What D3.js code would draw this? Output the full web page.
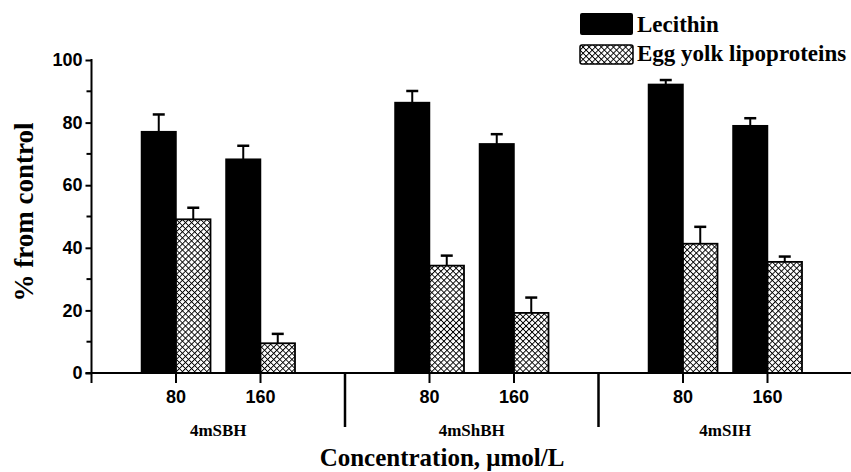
<!DOCTYPE html>
<html>
<head>
<meta charset="utf-8">
<script src="https://cdn.jsdelivr.net/npm/d3@7"></script>
<style>
  body { margin: 0; background: #fff; }
  .tick-num { font-family: "Liberation Sans", Arial, sans-serif; font-weight: bold; font-size: 18px; }
  .serif-b { font-family: "Liberation Serif", "Times New Roman", serif; font-weight: bold; }
</style>
</head>
<body>
<svg id="chart" width="851" height="472"></svg>
<script>
// data
var groups = ["4mSBH", "4mShBH", "4mSIH"];
var concs = ["80", "160"];
var lecithin = [77.1, 68.3, 86.4, 73.2, 92.2, 79.0];
var lecithinErr = [5.5, 4.3, 3.7, 3.1, 1.4, 2.4];
var eggYolk = [49.1, 9.5, 34.3, 19.2, 41.3, 35.5];
var eggYolkErr = [3.7, 3.0, 3.2, 4.9, 5.4, 1.7];
var yTicks = [0, 20, 40, 60, 80, 100];
var yMinor = [10, 30, 50, 70, 90];
var seriesNames = ["Lecithin", "Egg yolk lipoproteins"];

var svg = d3.select("#chart");

// slot 0 = y axis, each group takes 3 slots (80, 160, separator)
var x = d3.scaleLinear().domain([0, 9]).range([91.5, 852]);
var y = d3.scaleLinear().domain([0, 100]).range([373, 60]);
var barW = 34.5;

// crosshatch pattern
var defs = svg.append("defs");
var pat = defs.append("pattern")
    .attr("id", "hatch")
    .attr("patternUnits", "userSpaceOnUse")
    .attr("width", 4.3)
    .attr("height", 4.3)
    .attr("patternTransform", "rotate(45)");
pat.append("rect").attr("width", 4.3).attr("height", 4.3).attr("fill", "#fff");
pat.append("path").attr("d", "M0,0H4.3M0,0V4.3")
    .attr("stroke", "#000").attr("stroke-width", 1.9);

var rows = [];
groups.forEach(function (g, gi) {
    concs.forEach(function (c, ci) {
        var k = gi * 2 + ci;
        rows.push({slot: gi * 3 + ci + 1, conc: c,
            lec: lecithin[k], lecErr: lecithinErr[k],
            egg: eggYolk[k], eggErr: eggYolkErr[k]});
    });
});

// error bars (drawn first so the bar covers the lower half)
function errorBars(key, errKey, offset) {
    var eb = svg.append("g").selectAll("g").data(rows).enter().append("g");
    eb.append("line")
        .attr("x1", function (d) { return x(d.slot) + offset; })
        .attr("x2", function (d) { return x(d.slot) + offset; })
        .attr("y1", function (d) { return y(d[key]); })
        .attr("y2", function (d) { return y(d[key] + d[errKey]); })
        .attr("stroke", "#000").attr("stroke-width", 2);
    eb.append("line")
        .attr("x1", function (d) { return x(d.slot) + offset - 6; })
        .attr("x2", function (d) { return x(d.slot) + offset + 6; })
        .attr("y1", function (d) { return y(d[key] + d[errKey]); })
        .attr("y2", function (d) { return y(d[key] + d[errKey]); })
        .attr("stroke", "#000").attr("stroke-width", 2.5);
}
errorBars("lec", "lecErr", -barW / 2);
errorBars("egg", "eggErr", barW / 2);

svg.append("g").selectAll("rect").data(rows).enter().append("rect")
    .attr("x", function (d) { return x(d.slot) - barW; })
    .attr("y", function (d) { return y(d.lec); })
    .attr("width", barW)
    .attr("height", function (d) { return y(0) - y(d.lec); })
    .attr("fill", "#000").attr("stroke", "#000").attr("stroke-width", 1.5);

svg.append("g").selectAll("rect").data(rows).enter().append("rect")
    .attr("x", function (d) { return x(d.slot); })
    .attr("y", function (d) { return y(d.egg); })
    .attr("width", barW)
    .attr("height", function (d) { return y(0) - y(d.egg); })
    .attr("fill", "url(#hatch)").attr("stroke", "#000").attr("stroke-width", 1.8);

// y axis
var yAxis = svg.append("g").attr("transform", "translate(" + x(0) + ",0)")
    .call(d3.axisLeft(y).tickValues(yTicks).tickSize(6).tickPadding(3));
yAxis.select(".domain").remove();
yAxis.selectAll(".tick line").attr("stroke-width", 2);
yAxis.selectAll(".tick text").attr("class", "tick-num").attr("fill", "#000");
yAxis.selectAll(".minor").data(yMinor).enter().append("line")
    .attr("x1", -5).attr("x2", 0)
    .attr("y1", function (d) { return y(d); }).attr("y2", function (d) { return y(d); })
    .attr("stroke", "#000").attr("stroke-width", 2);
svg.append("line")
    .attr("x1", x(0)).attr("x2", x(0)).attr("y1", y(100) - 1).attr("y2", y(0) + 10)
    .attr("stroke", "#000").attr("stroke-width", 2);

// x axis
svg.append("line")
    .attr("x1", x(0) - 6).attr("x2", x(9)).attr("y1", y(0)).attr("y2", y(0))
    .attr("stroke", "#000").attr("stroke-width", 2);
svg.append("g").selectAll("line").data(rows).enter().append("line")
    .attr("x1", function (d) { return x(d.slot); })
    .attr("x2", function (d) { return x(d.slot); })
    .attr("y1", y(0)).attr("y2", y(0) + 10)
    .attr("stroke", "#000").attr("stroke-width", 2);
svg.append("g").selectAll("text").data(rows).enter().append("text")
    .attr("class", "tick-num")
    .attr("x", function (d) { return x(d.slot); })
    .attr("y", 403)
    .attr("text-anchor", "middle")
    .text(function (d) { return d.conc; });

// group separators and labels
svg.append("g").selectAll("line").data([3, 6]).enter().append("line")
    .attr("x1", function (d) { return x(d); })
    .attr("x2", function (d) { return x(d); })
    .attr("y1", y(0)).attr("y2", 427)
    .attr("stroke", "#000").attr("stroke-width", 2.5);
svg.append("g").selectAll("text").data(groups).enter().append("text")
    .attr("class", "serif-b")
    .style("font-size", "17px")
    .attr("x", function (d, i) { return x(i * 3 + 1.5); })
    .attr("y", 436)
    .attr("text-anchor", "middle")
    .text(function (d) { return d; });

// axis titles
svg.append("text")
    .attr("class", "serif-b").style("font-size", "25px")
    .attr("x", 442).attr("y", 466)
    .attr("text-anchor", "middle")
    .text("Concentration, \u03bcmol/L");
svg.append("text")
    .attr("class", "serif-b").style("font-size", "27px")
    .attr("transform", "translate(33,212) rotate(-90)")
    .attr("text-anchor", "middle")
    .text("% from control");

// legend
var legend = svg.append("g").attr("transform", "translate(580,13)");
legend.append("rect").attr("width", 53).attr("height", 22).attr("rx", 2)
    .attr("fill", "#000");
legend.append("rect").attr("y", 32).attr("width", 53).attr("height", 19).attr("rx", 2)
    .attr("fill", "url(#hatch)").attr("stroke", "#000").attr("stroke-width", 1.5);
legend.selectAll("text").data(seriesNames).enter().append("text")
    .attr("class", "serif-b").style("font-size", "23px")
    .attr("x", 57)
    .attr("y", function (d, i) { return 19 + i * 29; })
    .text(function (d) { return d; });
</script>
</body>
</html>
